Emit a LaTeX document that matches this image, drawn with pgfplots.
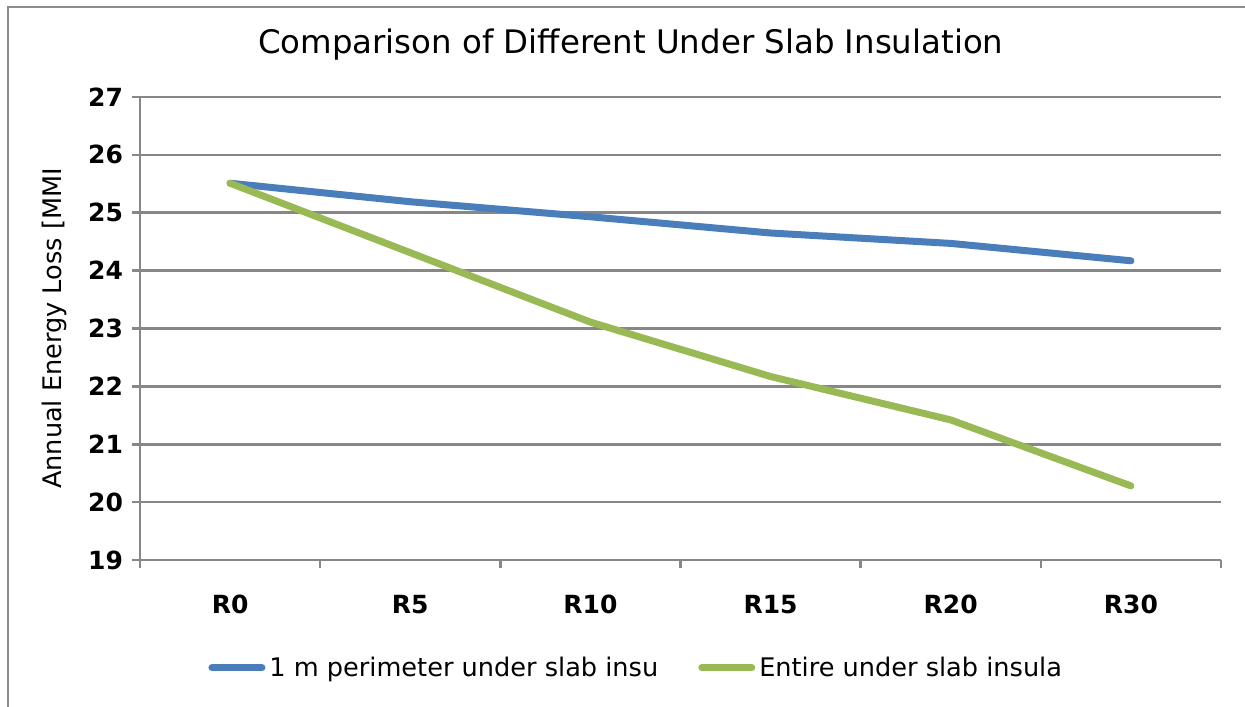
\documentclass[border=0pt]{standalone}
\usepackage{fontspec}
\setmainfont{DejaVu Sans}
\usepackage{pgfplots}
\pgfplotsset{compat=1.18}
\definecolor{blueline}{HTML}{4A7EBB}
\definecolor{greenline}{HTML}{98B954}
\definecolor{gridgray}{HTML}{878787}
\definecolor{framegray}{HTML}{8C8C8C}
\begin{document}
\begin{tikzpicture}
\begin{axis}[
  scale only axis, width=540.5pt, height=231.5pt,
  xmin=-0.5, xmax=5.5, ymin=19, ymax=27,
  clip=false,
  axis x line*=bottom, axis y line*=left,
  axis line style={gridgray, line width=1.3pt, -},
  tick align=outside,
  ytick={19,...,27},
  ymajorgrids, grid style={gridgray, line width=1.3pt},
  major tick length=4pt,
  tick style={gridgray, line width=1.3pt},
  xtick={-0.5,0.5,...,5.5}, xticklabels={},
  extra x ticks={0,1,2,3,4,5},
  extra x tick labels={R0,R5,R10,R15,R20,R30},
  extra x tick style={major tick length=0pt, xticklabel style={yshift=-14pt}},
  xticklabel style={font=\bfseries\fontsize{12.5}{14}\selectfont},
  yticklabel style={font=\bfseries\fontsize{12.5}{14}\selectfont, xshift=-1pt},
  /pgf/number format/assume math mode=true,
  title={Comparison of Different Under Slab Insulation},
  title style={at={(axis description cs:0.454,1)}, anchor=center, yshift=20pt, font=\fontsize{16.2}{18}\selectfont},
  ylabel={Annual Energy Loss [MMI},
  ylabel style={at={(axis description cs:-0.0787,0.5)}, anchor=center, rotate=0, font=\fontsize{12.8}{14}\selectfont},
  legend columns=2,
  legend style={draw=none, at={(axis description cs:0.0574,-0.233)}, anchor=west,
    font=\fontsize{12.8}{14}\selectfont, /tikz/every even column/.append style={column sep=18pt}},
  legend image code/.code={\draw[#1, line width=3.5pt, line cap=round] (0pt,0pt) -- (25pt,0pt);},
]
\addplot[blueline, line width=3.5pt, line cap=round, line join=round] coordinates {
(0,25.51) (1,25.19) (2,24.93) (3,24.65) (4,24.47) (5,24.17)};
\addlegendentry{1 m perimeter under slab insu}
\addplot[greenline, line width=3.5pt, line cap=round, line join=round] coordinates {
(0,25.51) (1,24.31) (2,23.11) (3,22.17) (4,21.42) (5,20.28)};
\addlegendentry{Entire under slab insula}
\draw[framegray, line width=1pt] ([xshift=-66pt,yshift=-80pt]rel axis cs:0,0) -- ([xshift=-66pt,yshift=45pt]rel axis cs:0,1) -- ([xshift=20pt,yshift=45pt]rel axis cs:1,1);
\coordinate (bl) at ([xshift=-70pt,yshift=-73.5pt]rel axis cs:0,0);
\coordinate (tr) at ([xshift=12pt,yshift=48.5pt]rel axis cs:1,1);
\end{axis}
\pgfresetboundingbox
\path (bl) rectangle (tr);
\end{tikzpicture}
\end{document}
